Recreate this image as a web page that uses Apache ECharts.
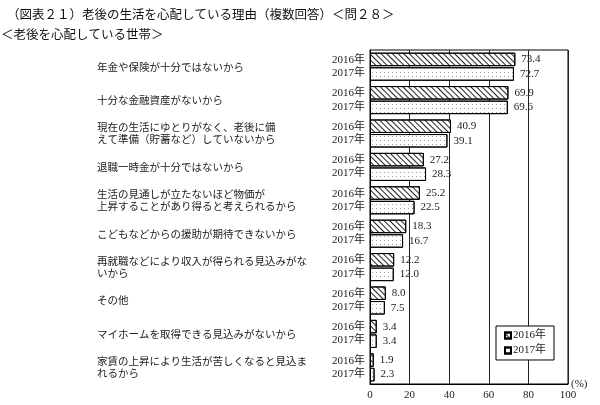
<!DOCTYPE html>
<html><head><meta charset="utf-8">
<script src="https://cdn.jsdelivr.net/npm/echarts@6/dist/echarts.min.js"></script>
<style>html,body{margin:0;padding:0;background:#fff}#c{width:600px;height:405px}</style>
</head><body><div id="c"></div>
<script>
const titleText = '（図表２１）老後の生活を心配している理由（複数回答）＜問２８＞';
const subtitleText = '＜老後を心配している世帯＞';
const categories = [
  '年金や保険が十分ではないから',
  '十分な金融資産がないから',
  '現在の生活にゆとりがなく、老後に備\nえて準備（貯蓄など）していないから',
  '退職一時金が十分ではないから',
  '生活の見通しが立たないほど物価が\n上昇することがあり得ると考えられるから',
  'こどもなどからの援助が期待できないから',
  '再就職などにより収入が得られる見込みがな\nいから',
  'その他',
  'マイホームを取得できる見込みがないから',
  '家賃の上昇により生活が苦しくなると見込ま\nれるから'
];
const seriesNames = ['2016年', '2017年'];
const values2016 = [73.4, 69.9, 40.9, 27.2, 25.2, 18.3, 12.2, 8.0, 3.4, 1.9];
const values2017 = [72.7, 69.6, 39.1, 28.3, 22.5, 16.7, 12.0, 7.5, 3.4, 2.3];
const xTicks = [0, 20, 40, 60, 80, 100];

// year labels beside each pair of bars (5 slots per category, using slots 2 and 4)
const yearLabels = [];
categories.forEach(() => { yearLabels.push('', seriesNames[0], '', seriesNames[1], ''); });

const serif = "'Liberation Serif', 'Noto Sans CJK JP', serif";
const sans = "'Noto Sans CJK JP', sans-serif";

const chart = echarts.init(document.getElementById('c'), null, {renderer: 'canvas'});
const labelCfg = {
  show: true, position: 'right', distance: 6,
  fontFamily: serif, fontSize: 11, color: '#222',
  formatter: p => p.value.toFixed(1)
};
chart.setOption({
  animation: false,
  backgroundColor: '#fff',
  title: [
    {text: titleText, left: 7, top: 8, padding: 0,
     textStyle: {fontFamily: sans, fontSize: 12.5, fontWeight: 'normal', color: '#111'}},
    {text: subtitleText, left: 1, top: 28, padding: 0,
     textStyle: {fontFamily: sans, fontSize: 12.5, fontWeight: 'normal', color: '#111'}}
  ],
  legend: {
    data: seriesNames, orient: 'vertical', left: 496, top: 326,
    padding: [4, 8], itemGap: 4, itemWidth: 6, itemHeight: 6,
    borderColor: '#000', borderWidth: 1, borderRadius: 0, backgroundColor: '#fff',
    icon: 'rect',
    textStyle: {fontFamily: serif, fontSize: 11, color: '#222', padding: [0,0,0,-3]}
  },
  grid: {left: 370, right: 32, top: 50, bottom: 21, show: true, borderColor: '#000', borderWidth: 1, containLabel: false},
  xAxis: {
    type: 'value', min: xTicks[0], max: xTicks[xTicks.length - 1], interval: 20,
    name: '(%)', nameLocation: 'end', nameGap: 3,
    nameTextStyle: {fontFamily: serif, fontSize: 11, color: '#222', verticalAlign: 'middle'},
    axisLine: {show: true, lineStyle: {color: '#000', width: 1}},
    axisTick: {show: false},
    axisLabel: {fontFamily: serif, fontSize: 11, color: '#222', margin: 6},
    splitLine: {show: true, lineStyle: {color: '#222', width: 1}}
  },
  yAxis: [
    {
      type: 'category', data: categories, inverse: true,
      axisLine: {show: true, lineStyle: {color: '#000'}},
      axisTick: {show: false},
      axisLabel: {align: 'left', margin: 273, fontFamily: sans, fontSize: 10.5, lineHeight: 12, color: '#222', padding: [6, 0, 0, 0]}
    },
    {
      type: 'category', data: yearLabels, inverse: true, position: 'left',
      axisLine: {show: false}, axisTick: {show: false},
      axisLabel: {interval: 0, margin: 5, fontFamily: serif, fontSize: 11, color: '#222', padding: [1, 0, 0, 0]}
    }
  ],
  series: [
    {
      name: seriesNames[0], type: 'bar', yAxisIndex: 0, data: values2016,
      barCategoryGap: '16%', barGap: '8%',
      itemStyle: {color: '#fff', borderColor: '#000', borderWidth: 1,
        decal: {symbol: 'rect', symbolSize: 1, dashArrayX: [[1, 0]], dashArrayY: [1, 2.5], rotation: Math.PI / 4, color: '#222'}},
      label: labelCfg
    },
    {
      name: seriesNames[1], type: 'bar', yAxisIndex: 0, data: values2017,
      itemStyle: {color: '#fff', borderColor: '#000', borderWidth: 1,
        decal: {symbol: 'rect', symbolSize: 1, dashArrayX: [1, 3], dashArrayY: [1, 3], rotation: 0, color: '#999'}},
      label: labelCfg
    }
  ]
});
</script></body></html>
